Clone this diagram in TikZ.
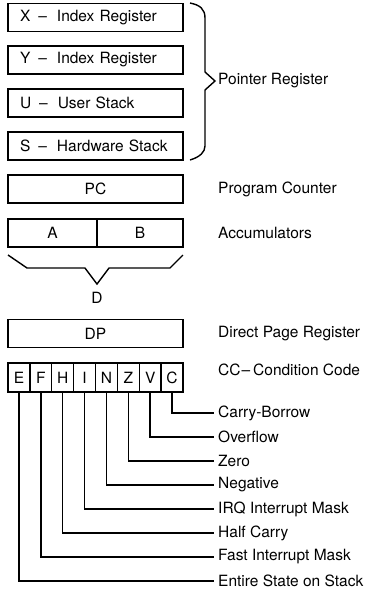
\documentclass[tikz,border=0pt]{standalone}
\usepackage{fontspec}
\setmainfont{TeX Gyre Heros}
\usetikzlibrary{positioning}
\newcommand{\regdash}{\hspace{8pt}--\hspace{10pt}}
\tikzset{
  reg/.style={draw, line width=1.4pt, minimum width=175pt, minimum height=28pt, inner sep=0pt},
  lreg/.style={reg, text width=151pt, inner xsep=12pt, align=left},
  flag/.style={draw, line width=1.4pt, minimum width=21.875pt, minimum height=29pt, inner sep=0pt},
  lbl/.style={anchor=west, inner xsep=4pt, inner ysep=0pt},
  wire/.style={line width=1.4pt}
}
\begin{document}
\begin{tikzpicture}[x=1pt,y=-1pt,font=\fontsize{15.5}{18}\selectfont]
\useasboundingbox (0,0) rectangle (372,590);

% pointer registers
\node[lreg] (xreg) at (95.5,17.5) {X\regdash Index Register};
\node[lreg] (yreg) at (95.5,60) {Y\regdash Index Register};
\node[lreg] (ureg) at (95.5,103) {U\regdash User Stack};
\node[lreg] (sreg) at (95.5,146) {S\regdash Hardware Stack};
\draw[wire] (190,3) .. controls (200,5) and (205,9) .. (205,18) -- (205,72)
  -- (215,81) -- (205,90) -- (205,146) .. controls (205,152) and (200,157) .. (190,160);
\coordinate (ptrtip) at (214,81);
\node[lbl] (ptrlbl) at (ptrtip) {Pointer Register};

% program counter
\node[reg] (pc) at (95.5,189) {PC};
\node[lbl] (pclbl) at (214,189) {Program Counter};

% accumulators
\node[reg, minimum width=89pt] (acca) at (52.5,233) {A};
\node[reg, minimum width=86pt] (accb) at (140,233) {B};
\node[lbl] (acclbl) at (214,233) {Accumulators};
\draw[wire] (8,255) -- (27,268) -- (85,268) -- (97,284) -- (109,268) -- (170,268) -- (183,255);
\node (accd) at (97,298) {D};

% direct page
\node[reg] (dp) at (95.5,333.5) {DP};
\node[lbl] (dplbl) at (214,334) {Direct Page Register};

% condition code
\node[lbl] (cclbl) at (214,370) {CC\hspace{1pt}--\hspace{3pt}Condition Code};
\foreach \f [count=\i from 0] in {E,F,H,I,N,Z,V,C} {
  \node[flag] (cc\f) at ({8+21.875*(\i+0.5)},377.5) {\f};
}
\foreach \f/\t [count=\i from 0] in {E/Entire State on Stack, F/Fast Interrupt Mask,
    H/Half Carry, I/IRQ Interrupt Mask, N/Negative, Z/Zero, V/Overflow, C/Carry-Borrow} {
  \node[lbl] (lbl\f) at (214,{581-24*\i}) {\t};
  \draw[wire] (cc\f.south) |- (lbl\f.west);
}

\end{tikzpicture}
\end{document}
